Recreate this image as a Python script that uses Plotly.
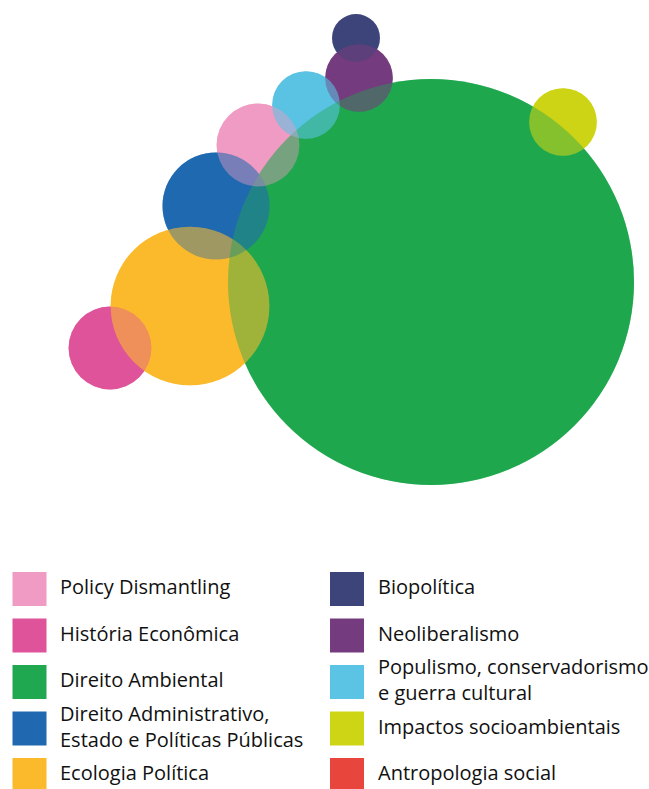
import plotly.graph_objects as go

# ---- data ----
categories = [
    "Policy Dismantling", "História Econômica", "Direito Ambiental",
    "Direito Administrativo,<br>Estado e Políticas Públicas", "Ecologia Política",
    "Biopolítica", "Neoliberalismo", "Populismo, conservadorismo<br>e guerra cultural",
    "Impactos socioambientais", "Antropologia social",
]
counts = [3, 3, 72, 5, 11, 1, 2, 2, 2, 0]

# packed-bubble layout positions (bubble centres)
pos_x = [258, 110, 431, 216, 190, 356, 359, 306, 563, None]
pos_y = [145, 348, 282, 206, 306, 38, 78, 105, 122, None]

# legend arrangement
legend_col = [0, 0, 0, 0, 0, 1, 1, 1, 1, 1]
legend_row = [0, 1, 2, 3, 4, 0, 1, 2, 3, 4]

colors = ["#F09BC4", "#DE5399", "#1FA84F", "#2069B0", "#FBBA2B",
          "#3D4479", "#743B7F", "#5BC3E3", "#CED515", "#E8453C"]

# ---- styles ----
W, H = 649, 789
MAX_DIAM = 406
# plotly area mode: diameter = sqrt(2 * v / sizeref)
sizeref = 2 * max(counts) / MAX_DIAM ** 2
TOP_H = 552
swatch_x = [29.5, 347]
text_x = [60, 378]
FONT = "'Open Sans', Lato, sans-serif"

fig = go.Figure()

idx = [i for i in range(len(categories)) if pos_x[i] is not None]

# opaque layer
for i in idx:
    fig.add_trace(go.Scatter(
        x=[pos_x[i]], y=[pos_y[i]], mode="markers",
        marker=dict(size=[counts[i]], sizemode="area", sizeref=sizeref,
                    color=colors[i], opacity=1, line=dict(width=0)),
        hoverinfo="text", text=[categories[i]], showlegend=False,
        xaxis="x", yaxis="y"))
# translucent layer, reverse order, blends the overlaps
for i in reversed(idx):
    fig.add_trace(go.Scatter(
        x=[pos_x[i]], y=[pos_y[i]], mode="markers",
        marker=dict(size=[counts[i]], sizemode="area", sizeref=sizeref,
                    color=colors[i], opacity=0.42, line=dict(width=0)),
        hoverinfo="skip", showlegend=False,
        xaxis="x", yaxis="y"))

# legend swatches
fig.add_trace(go.Scatter(
    x=[swatch_x[c] for c in legend_col], y=legend_row, mode="markers",
    marker=dict(symbol="square", size=34, color=colors, opacity=1, line=dict(width=0)),
    hoverinfo="skip", showlegend=False, xaxis="x2", yaxis="y2"))
# legend labels
fig.add_trace(go.Scatter(
    x=[text_x[c] for c in legend_col], y=legend_row, mode="text",
    text=categories, textposition="middle right",
    textfont=dict(family=FONT, size=20, color="#111111"),
    hoverinfo="skip", showlegend=False, xaxis="x2", yaxis="y2"))

split = 1 - TOP_H / H
fig.update_layout(
    width=W, height=H,
    margin=dict(l=0, r=0, t=0, b=0),
    paper_bgcolor="white", plot_bgcolor="white",
    xaxis=dict(range=[0, W], visible=False, domain=[0, 1], anchor="y"),
    yaxis=dict(range=[TOP_H, 0], visible=False, domain=[split, 1], anchor="x"),
    xaxis2=dict(range=[0, W], visible=False, domain=[0, 1], anchor="y2"),
    yaxis2=dict(range=[4.301, -0.796], visible=False, domain=[0, split], anchor="x2"),
)

fig.write_html("out.html", config={"displayModeBar": False},
               post_script="document.body.style.margin='0';")
